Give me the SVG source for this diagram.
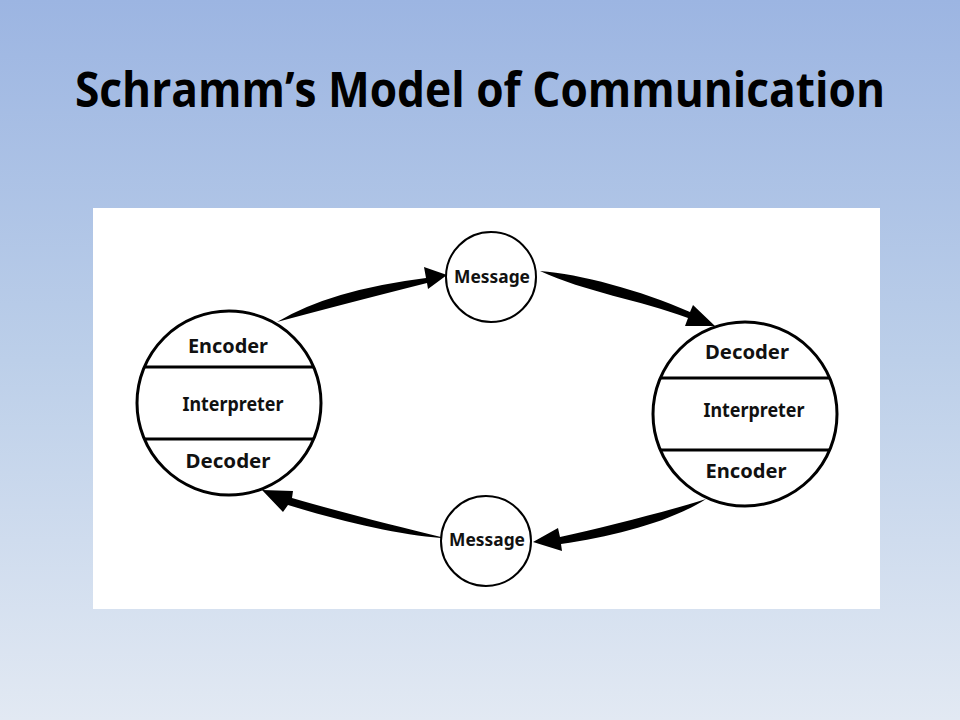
<svg xmlns="http://www.w3.org/2000/svg" width="960" height="720" viewBox="0 0 960 720">
  <defs>
    <linearGradient id="bg" x1="0" y1="0" x2="0" y2="1">
      <stop offset="0" stop-color="#9cb5e2"/>
      <stop offset="0.5" stop-color="#bccfe9"/>
      <stop offset="1" stop-color="#e2e9f3"/>
    </linearGradient>
    <style>
      .title { font-family: "Open Sans", "Liberation Sans", sans-serif; font-weight: bold; font-size: 48px; fill: #000; }
      .lbl { font-family: "Noto Sans", "DejaVu Sans", sans-serif; font-weight: bold; font-size: 19px; fill: #111; text-anchor: middle; }
      .msg { font-family: "Noto Sans", "DejaVu Sans", sans-serif; font-weight: bold; font-size: 17px; fill: #111; text-anchor: middle; }
      .big { fill: #fff; stroke: #000; stroke-width: 3; }
      .small { fill: #fff; stroke: #000; stroke-width: 2; }
      .div { stroke: #000; stroke-width: 3; }
      .arrow { fill: #000; stroke: none; }
    </style>
  </defs>
  <rect x="0" y="0" width="960" height="720" fill="url(#bg)"/>
  <text class="title" x="75" y="107" textLength="810" lengthAdjust="spacingAndGlyphs">Schramm’s Model of Communication</text>
  <rect x="93" y="208" width="787" height="401" fill="#fff"/>

  <g id="connectors">
    <path class="arrow" d="M277,322 Q330,290 426,278 L424,267 L447,275 L428,289 L427,283 Q340,305 277,322 Z"/>
    <path class="arrow" d="M540,271 C580,274 640,290 690,312 L693,305 L715,326 L685,326 L688,318 C640,300 585,292 540,271 Z"/>
    <path class="arrow" d="M706,499 C665,512 605,527 560,537 L558,528 L533,542 L562,551 L561,544 C615,536 670,522 706,499 Z"/>
    <path class="arrow" d="M441,537 C400,527 340,512 292,498 L293,491 L262,490 L283,512 L288,505 C340,521 400,535 441,538 Z"/>
  </g>

  <g id="left-person">
    <circle class="big" cx="229" cy="403" r="92"/>
    <line class="div" x1="144" y1="367" x2="314" y2="367"/>
    <line class="div" x1="144" y1="439" x2="314" y2="439"/>
    <text class="lbl" x="228" y="353" textLength="80" lengthAdjust="spacingAndGlyphs">Encoder</text>
    <text class="lbl" x="233" y="411" textLength="101" lengthAdjust="spacingAndGlyphs">Interpreter</text>
    <text class="lbl" x="228" y="468" textLength="85" lengthAdjust="spacingAndGlyphs">Decoder</text>
  </g>

  <g id="right-person">
    <circle class="big" cx="745" cy="414" r="92"/>
    <line class="div" x1="660" y1="378" x2="830" y2="378"/>
    <line class="div" x1="660" y1="450" x2="830" y2="450"/>
    <text class="lbl" x="747" y="359" textLength="84" lengthAdjust="spacingAndGlyphs">Decoder</text>
    <text class="lbl" x="754" y="417" textLength="101" lengthAdjust="spacingAndGlyphs">Interpreter</text>
    <text class="lbl" x="746" y="478" textLength="81" lengthAdjust="spacingAndGlyphs">Encoder</text>
  </g>

  <g id="message-top">
    <circle class="small" cx="491" cy="277" r="45"/>
    <text class="msg" x="492" y="283" textLength="76" lengthAdjust="spacingAndGlyphs">Message</text>
  </g>

  <g id="message-bottom">
    <circle class="small" cx="486" cy="541" r="45"/>
    <text class="msg" x="487" y="546" textLength="76" lengthAdjust="spacingAndGlyphs">Message</text>
  </g>
</svg>
